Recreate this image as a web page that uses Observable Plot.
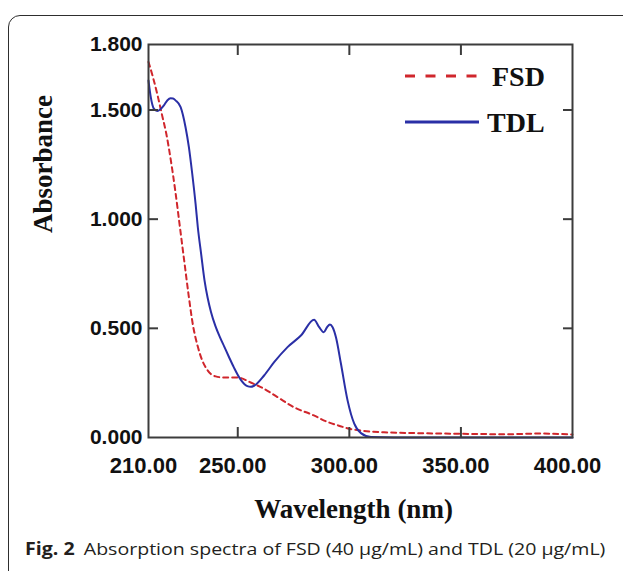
<!DOCTYPE html>
<html>
<head>
<meta charset="utf-8">
<script src="https://cdn.jsdelivr.net/npm/d3@7"></script>
<script src="https://cdn.jsdelivr.net/npm/@observablehq/plot@0.6"></script>
<style>
  html, body { margin: 0; padding: 0; background: #fff; }
  #wrap { position: relative; width: 623px; height: 571px; overflow: hidden; background: #fff; }
  #box { position: absolute; left: 8px; top: 15px; width: 660px; height: 620px; border: 1.5px solid #2e2e2e; border-radius: 12px; box-sizing: border-box; }
  #chart { position: absolute; left: 0; top: 0; }
  #legend { position: absolute; left: 0; top: 0; }
  #caption { position: absolute; left: 25px; top: 537px; font-family: "Open Sans", sans-serif; font-size: 17px; color: #231f20; white-space: nowrap; transform: scaleX(1.15); transform-origin: 0 0; }
  #caption b { font-weight: 700; margin-right: 8px; }
  #chart svg g[aria-label="y-axis tick label"] { font-family: "Liberation Sans", Arial, sans-serif; font-size: 21px; font-weight: bold; }
  #chart svg g[aria-label="x-axis tick label"] { font-family: "Liberation Sans", Arial, sans-serif; font-size: 22px; font-weight: bold; }
</style>
</head>
<body>
<div id="wrap">
  <div id="box"></div>
  <div id="chart"></div>
  <svg id="legend" width="623" height="160"></svg>
  <div id="caption"><b>Fig. 2</b>Absorption spectra of FSD (40 μg/mL) and TDL (20 μg/mL)</div>
</div>
<script>
// FSD (red dashed) — wavelength (nm) and absorbance
const fsdNm  = [210, 212, 214, 216, 218, 220, 222, 224, 226, 228, 230, 232, 234, 236, 238, 240.1, 243.7, 249.8, 255.8, 261.6, 267.8, 275.1, 284.1, 290, 295, 300, 305, 315.5, 330, 350, 370, 385, 400];
const fsdAbs = [1.72, 1.65, 1.57, 1.48, 1.39, 1.27, 1.13, 0.97, 0.81, 0.65, 0.51, 0.42, 0.355, 0.315, 0.29, 0.28, 0.275, 0.275, 0.252, 0.224, 0.185, 0.139, 0.101, 0.072, 0.055, 0.040, 0.032, 0.024, 0.020, 0.017, 0.015, 0.018, 0.014];
// TDL (blue solid)
const tdlNm  = [210, 211, 212.4, 213.9, 215.5, 216.9, 218.5, 219.9, 221, 222.1, 224.4, 226.6, 228.1, 229.6, 231.1, 232.1, 233.6, 235.1, 236.5, 238, 240, 242, 244, 246, 248.3, 251.3, 254.3, 255.8, 257.3, 261.8, 266.3, 272.3, 278.3, 284.2, 286.5, 288.5, 290, 291.3, 292.5, 294, 296.2, 299.2, 302.2, 305.2, 309.7, 320, 400];
const tdlAbs = [1.635, 1.56, 1.506, 1.495, 1.505, 1.521, 1.545, 1.554, 1.553, 1.544, 1.513, 1.421, 1.33, 1.208, 1.07, 0.963, 0.84, 0.72, 0.64, 0.575, 0.51, 0.46, 0.415, 0.37, 0.32, 0.265, 0.235, 0.232, 0.237, 0.284, 0.345, 0.414, 0.467, 0.539, 0.505, 0.482, 0.505, 0.518, 0.505, 0.459, 0.34, 0.17, 0.063, 0.02, 0.002, 0, 0];

const xTicks = [210, 250, 300, 350, 400];
const yTicks = [0, 0.5, 1.0, 1.5, 1.8];
const xInner = [250, 300, 350];
const yInner = [0.5, 1.0, 1.5];
const seriesNames = ["FSD", "TDL"];
const seriesColors = ["#d0262c", "#2a2fa6"];
const xTitle = "Wavelength (nm)";
const yTitle = "Absorbance";

const fsd = fsdNm.map((x, i) => ({x, y: fsdAbs[i]}));
const tdl = tdlNm.map((x, i) => ({x, y: tdlAbs[i]}));

const frameColor = "#3c3c3c";
const titleFont = {fontFamily: "Liberation Serif, Times New Roman, serif", fontSize: 27, fontWeight: "bold", fill: "#111"};

const plot = Plot.plot({
  width: 623,
  height: 540,
  marginLeft: 148,
  marginRight: 51,
  marginTop: 44,
  marginBottom: 103,
  x: {domain: [210, 400]},
  y: {domain: [0, 1.8]},
  style: {background: "transparent", color: "#111"},
  marks: [
    Plot.line(fsd, {x: "x", y: "y", stroke: seriesColors[0], strokeWidth: 2, strokeDasharray: "5,4", curve: "monotone-x"}),
    Plot.line(tdl, {x: "x", y: "y", stroke: seriesColors[1], strokeWidth: 2, curve: "monotone-x"}),
    Plot.frame({stroke: frameColor, strokeWidth: 2}),
    // tick labels
    Plot.axisY({anchor: "left", ticks: yTicks, tickFormat: d3.format(".3f"), tickSize: 0, tickPadding: 6, label: null, fill: "#111"}),
    Plot.axisX({anchor: "bottom", ticks: xTicks, tickFormat: d3.format(".2f"), tickSize: 0, tickPadding: 20, dx: -5, label: null, fill: "#111"}),
    // inward ticks on all four sides
    Plot.axisY({anchor: "left", ticks: yInner, tickSize: 10, dx: 10, tickFormat: () => "", label: null, stroke: frameColor, strokeWidth: 2}),
    Plot.axisY({anchor: "right", ticks: yInner, tickSize: 10, dx: -10, tickFormat: () => "", label: null, stroke: frameColor, strokeWidth: 2}),
    Plot.axisX({anchor: "bottom", ticks: xInner, tickSize: 10, dy: -10, tickFormat: () => "", label: null, stroke: frameColor, strokeWidth: 2}),
    Plot.axisX({anchor: "top", ticks: xInner, tickSize: 10, dy: 10, tickFormat: () => "", label: null, stroke: frameColor, strokeWidth: 2}),
    // axis titles
    Plot.text([xTitle], {text: d => d, frameAnchor: "bottom", dx: -7, dy: 80, ...titleFont}),
    Plot.text([yTitle], {text: d => d, frameAnchor: "left", rotate: -90, dx: -105, dy: -8, ...titleFont})
  ]
});
document.getElementById("chart").appendChild(plot);

// legend
const lg = d3.select("#legend");
const rows = [{y: 76, dash: "10,10.5"}, {y: 122, dash: null}];
seriesNames.forEach((name, i) => {
  const r = rows[i];
  lg.append("line").attr("x1", 405).attr("x2", 479).attr("y1", r.y).attr("y2", r.y)
    .attr("stroke", seriesColors[i]).attr("stroke-width", 3)
    .attr("stroke-dasharray", r.dash);
  lg.append("text").attr("x", i === 0 ? 492 : 487).attr("y", r.y).attr("dy", "0.35em")
    .attr("font-family", "Liberation Serif, Times New Roman, serif").attr("font-weight", "bold")
    .attr("font-size", 28).attr("fill", "#111").text(name);
});
</script>
</body>
</html>
